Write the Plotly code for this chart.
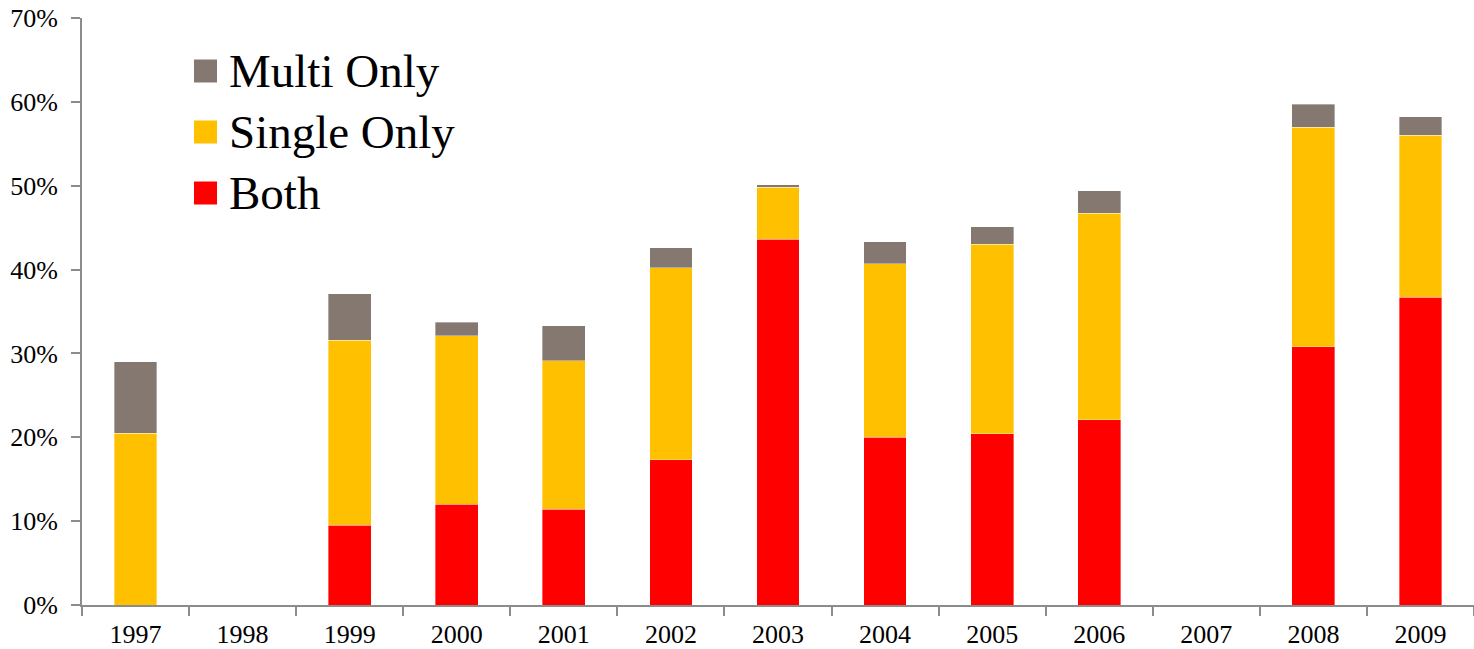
import plotly.graph_objects as go

# Years on the category axis
years = ["1997", "1998", "1999", "2000", "2001", "2002", "2003",
         "2004", "2005", "2006", "2007", "2008", "2009"]

# Share of respondents (%) by group, stacked bottom to top
both = [0, 0, 9.5, 12.0, 11.4, 17.3, 43.6, 20.0, 20.4, 22.1, 0, 30.8, 36.7]
single_only = [20.5, 0, 22.1, 20.1, 17.7, 22.9, 6.2, 20.7, 22.6, 24.6, 0, 26.2, 19.3]
multi_only = [8.5, 0, 5.5, 1.6, 4.2, 2.4, 0.3, 2.6, 2.1, 2.7, 0, 2.7, 2.2]

series = [
    ("Both", both, "#FF0000"),
    ("Single Only", single_only, "#FFC000"),
    ("Multi Only", multi_only, "#857870"),
]

FONT = "Liberation Serif, Times New Roman, serif"
AXIS = "#8C8C8C"

fig = go.Figure()
for name, vals, color in series:
    fig.add_trace(go.Bar(
        x=years, y=vals, name=name,
        marker=dict(color=color, line=dict(color="rgba(255,255,255,0.6)", width=0.6)),
        showlegend=False,
    ))

# Hand-built legend: large swatches with text, top entry first
legend_items = [("Multi Only", "#857870"), ("Single Only", "#FFC000"), ("Both", "#FF0000")]
x0_px, y0_px, step_px, sw = 194, 71, 61, 23
W, H = 1474, 649
ml, mr, mt, mb = 82, 0, 18, 44
pw, ph = W - ml - mr, H - mt - mb
for i, (label, color) in enumerate(legend_items):
    cy = y0_px + i * step_px
    fx0 = (x0_px - ml) / pw
    fx1 = (x0_px + sw - ml) / pw
    fy0 = 1 - (cy + sw / 2 - mt) / ph
    fy1 = 1 - (cy - sw / 2 - mt) / ph
    fig.add_shape(type="rect", xref="paper", yref="paper",
                  x0=fx0, x1=fx1, y0=fy0, y1=fy1,
                  fillcolor=color, line=dict(width=0))
    fig.add_annotation(xref="paper", yref="paper",
                       x=(x0_px + sw + 10 - ml) / pw, y=1 - (cy - mt) / ph,
                       text=label, showarrow=False, xanchor="left", yanchor="middle",
                       font=dict(family=FONT, size=47, color="black"))

fig.update_layout(
    barmode="stack",
    bargap=0.6,
    width=W, height=H,
    margin=dict(l=ml, r=mr, t=mt, b=mb),
    plot_bgcolor="white", paper_bgcolor="white",
    font=dict(family=FONT, size=26, color="black"),
    xaxis=dict(
        type="category",
        showline=True, linecolor=AXIS, linewidth=2,
        ticks="outside", tickson="boundaries", ticklen=9, tickcolor=AXIS, tickwidth=2,
        showgrid=False,
        ticklabelstandoff=5,
        tickfont=dict(family=FONT, size=26, color="black"),
    ),
    yaxis=dict(
        range=[0, 70], dtick=10, ticksuffix="%",
        showline=True, linecolor=AXIS, linewidth=2,
        ticks="outside", ticklen=9, tickcolor=AXIS, tickwidth=2,
        showgrid=False, zeroline=False,
        ticklabelstandoff=8,
        tickfont=dict(family=FONT, size=26, color="black"),
    ),
)

fig.write_html("out.html")
